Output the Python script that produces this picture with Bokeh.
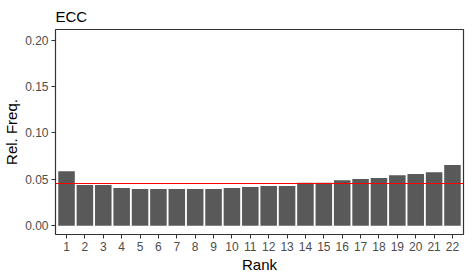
from bokeh.plotting import figure
from bokeh.models import Range1d, FixedTicker, Span, ColumnDataSource
from bokeh.embed import file_html
from bokeh.resources import INLINE

ranks = list(range(1, 23))
rel_freq = [0.0588, 0.0438, 0.0438, 0.0405, 0.0395, 0.0395, 0.0395, 0.0395, 0.0395,
            0.0405, 0.0416, 0.0427, 0.0427, 0.0462, 0.0462, 0.0491, 0.0502, 0.0513,
            0.0545, 0.0556, 0.0577, 0.0653]
y_ticks = [0.0, 0.05, 0.10, 0.15, 0.20]
y_tick_labels = {0.0: "0.00", 0.05: "0.05", 0.1: "0.10", 0.15: "0.15", 0.2: "0.20"}
uniform_level = 1 / 22

src = ColumnDataSource(dict(x=ranks, top=rel_freq))

p = figure(width=458, height=272, output_backend="svg", toolbar_location=None,
           x_range=Range1d(0.4, 22.6), y_range=Range1d(-0.0095, 0.2115),
           title="ECC", min_border_left=49, min_border_right=2,
           min_border_top=27, min_border_bottom=40)
p.frame_width = 408
p.frame_height = 205

p.vbar(x="x", top="top", bottom=0, width=0.9, source=src,
       fill_color="#595959", line_color=None)
p.add_layout(Span(location=uniform_level, dimension="width",
                  line_color="#FF0000", line_width=1.2))

p.title.text_font = "Liberation Sans"
p.title.text_font_size = "15px"
p.title.text_font_style = "normal"
p.title.text_color = "#000000"
p.title.offset = 0
p.title.standoff = 10

p.xgrid.visible = False
p.ygrid.visible = False
p.outline_line_color = "#333333"
p.outline_line_width = 1.2
p.background_fill_color = "white"

p.xaxis.ticker = FixedTicker(ticks=ranks)
p.yaxis.ticker = FixedTicker(ticks=y_ticks)
p.yaxis.major_label_overrides = y_tick_labels
for ax in (p.xaxis[0], p.yaxis[0]):
    ax.axis_line_color = None
    ax.major_tick_line_color = "#333333"
    ax.major_tick_out = 4
    ax.major_tick_in = 0
    ax.minor_tick_line_color = None
    ax.major_label_text_font = "Liberation Sans"
    ax.major_label_text_font_size = "12px"
    ax.major_label_text_color = "#4D4D4D"
    ax.axis_label_text_font = "Liberation Sans"
    ax.axis_label_text_font_size = "15px"
    ax.axis_label_text_font_style = "normal"
    ax.axis_label_text_color = "#000000"
    ax.major_label_standoff = 3
    ax.axis_label_standoff = 2
p.xaxis.axis_label = "Rank"
p.yaxis.axis_label = "Rel. Freq."
p.yaxis.major_label_orientation = "horizontal"

open("out.html", "w").write(file_html(p, INLINE))
